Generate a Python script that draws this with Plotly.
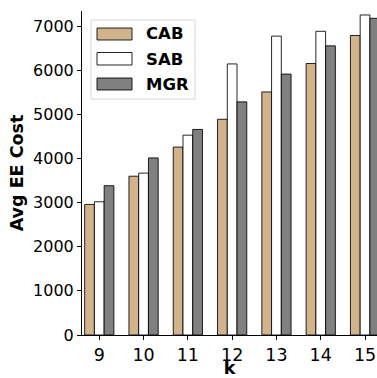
import plotly.graph_objects as go

k = [9, 10, 11, 12, 13, 14, 15]
cab = [2960, 3600, 4260, 4890, 5510, 6155, 6790]
sab = [3020, 3670, 4530, 6145, 6775, 6885, 7255]
mgr = [3385, 4015, 4660, 5285, 5915, 6555, 7180]
series_names = ["CAB", "SAB", "MGR"]
colors = ["#D2B48C", "#FFFFFF", "#808080"]

W, H = 377, 378
L, R, T, B = 82, 0, 11, 43
pw, ph = W - L - R, H - T - B

def px(x):
    return (x - L) / pw

def py(y):
    return (H - B - y) / ph

fig = go.Figure()
for name, vals, c in zip(series_names, [cab, sab, mgr], colors):
    fig.add_trace(go.Bar(x=k, y=vals, name=name, marker_color=c,
                         marker_line_color="rgba(0,0,0,0.85)", marker_line_width=1,
                         showlegend=False))

font_family = "DejaVu Sans"

shapes = []
annotations = []
shapes.append(dict(type="rect", xref="paper", yref="paper",
                   x0=px(91), x1=px(195), y0=py(99), y1=py(20),
                   line=dict(color="#d6d6d6", width=1), fillcolor="rgba(255,255,255,0.8)", layer="above"))
sw_y = [(28, 40), (52.5, 65), (78, 90)]
txt_y = [34, 59, 84]
for (y0, y1), ty, name, c in zip(sw_y, txt_y, series_names, colors):
    shapes.append(dict(type="rect", xref="paper", yref="paper",
                       x0=px(97), x1=px(132), y0=py(y1), y1=py(y0),
                       line=dict(color="rgba(0,0,0,0.85)", width=1), fillcolor=c, layer="above"))
    annotations.append(dict(xref="paper", yref="paper", x=px(144), y=py(ty),
                            text="<b>%s</b>" % name, showarrow=False,
                            xanchor="left", yanchor="middle",
                            font=dict(family=font_family, size=16.5, color="black")))

fig.update_layout(
    width=W, height=H,
    margin=dict(l=L, r=R, t=T, b=B, pad=0),
    plot_bgcolor="white", paper_bgcolor="white",
    barmode="group", bargap=0.34, bargroupgap=0,
    font=dict(family=font_family, color="black"),
    shapes=shapes, annotations=annotations,
)
fig.update_xaxes(range=[8.61, 15.27], tickvals=k, ticktext=[str(v) for v in k],
                 showline=True, linecolor="black", linewidth=1, mirror=False,
                 ticks="outside", ticklen=4, tickcolor="black", automargin=False,
                 tickfont=dict(size=17.5), showgrid=False, zeroline=False,
                 title=dict(text="<b>k</b>", font=dict(size=17.5), standoff=8))
fig.update_yaxes(range=[0, 7345], tickvals=[0, 1000, 2000, 3000, 4000, 5000, 6000, 7000],
                 showline=True, linecolor="black", linewidth=1, mirror=True,
                 ticks="outside", ticklen=4, tickcolor="black", automargin=False,
                 tickfont=dict(size=16), showgrid=False, zeroline=False,
                 title=dict(text="<b>Avg EE Cost</b>", font=dict(size=17.5), standoff=4))
fig.write_html("out.html", config={"displayModeBar": False},
               post_script="document.body.style.margin='0';document.body.style.overflow='hidden';")
